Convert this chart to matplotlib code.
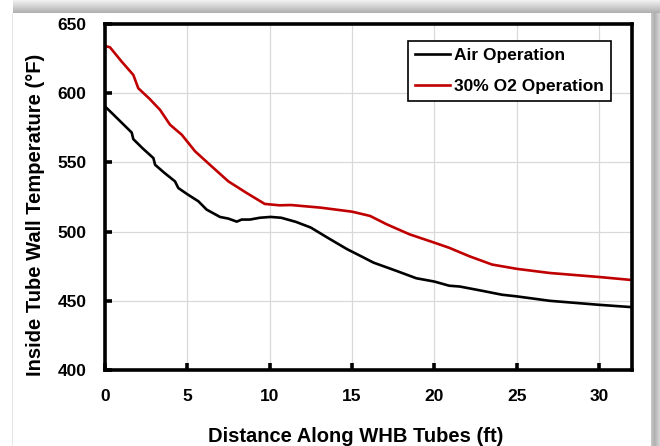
import matplotlib
matplotlib.use("Agg")
import matplotlib.pyplot as plt
from matplotlib.patches import Rectangle

plt.rcParams['font.family'] = ['Liberation Sans', 'DejaVu Sans']
plt.rcParams['font.weight'] = 'bold'

# Data
air_x = [0, 0.3, 0.9, 1.62, 1.72, 2.3, 2.94, 3.04, 3.6, 4.25, 4.45, 5.0, 5.67, 6.17,
         6.98, 7.49, 8.0, 8.3, 8.8, 9.4, 10.06, 10.7, 11.6, 12.5, 13.5, 14.7, 15.5,
         16.3, 17.7, 18.9, 20.0, 20.9, 21.55, 23.0, 24.1, 25.0, 27.0, 30.0, 32.0]
air_y = [590.4, 587.0, 580.0, 571.6, 566.8, 560.0, 553.1, 548.3, 542.5, 536.3, 531.5,
         527.0, 521.9, 515.9, 510.6, 509.4, 507.2, 508.7, 508.7, 510.0, 510.6, 510.0,
         507.0, 502.9, 495.7, 487.3, 482.5, 477.6, 471.6, 466.3, 463.9, 460.9, 460.3,
         457.0, 454.4, 453.2, 450.0, 447.1, 445.4]

o2_x = [0, 0.3, 1.0, 1.72, 2.02, 2.7, 3.34, 3.95, 4.66, 5.47, 6.48, 7.49, 8.6, 9.7,
        10.6, 11.3, 13.1, 15.0, 16.1, 17.1, 18.5, 20.0, 20.9, 22.1, 23.5, 25.0, 27.0,
        30.0, 32.0]
o2_y = [634.1, 633.2, 623.0, 613.2, 603.6, 596.0, 588.0, 577.2, 570.0, 558.0, 547.1,
        536.3, 527.9, 520.0, 519.0, 519.2, 517.3, 514.4, 511.3, 505.3, 498.0, 492.0,
        488.3, 482.3, 476.2, 473.1, 470.1, 467.2, 465.0]

series_names = ['Air Operation', '30% O2 Operation']
x_ticks = [0, 5, 10, 15, 20, 25, 30]
y_ticks = [400, 450, 500, 550, 600, 650]

W, H = 660, 446
fig = plt.figure(figsize=(W / 100, H / 100), dpi=100)
fig.patch.set_facecolor('white')

# card shadow (decoration)
def px_rect(x0, y0, x1, y1, color, alpha):
    fig.patches.append(Rectangle((x0 / W, 1 - y1 / H), (x1 - x0) / W, (y1 - y0) / H,
                                 transform=fig.transFigure, facecolor=color,
                                 edgecolor='none', alpha=alpha, zorder=0))
for i in range(13):
    a = 0.10 + 0.45 * (i / 12)
    px_rect(13, i, 660, i + 1, '#707070', a)
for i in range(9):
    a = 0.55 - 0.05 * abs(i - 3)
    px_rect(651 + i, 13, 652 + i, 446, '#707070', a)
px_rect(12, 13, 13, 446, '#e6e6e6', 1)

ax = fig.add_axes([105 / W, 1 - 370 / H, (632 - 105) / W, (370 - 24) / H])
ax.plot(air_x, air_y, color='black', lw=1.9, label=series_names[0])
ax.plot(o2_x, o2_y, color='#c00000', lw=1.9, label=series_names[1])

ax.set_xlim(0, 32)
ax.set_ylim(400, 650)
ax.set_xticks(x_ticks)
ax.set_yticks(y_ticks)
ax.grid(True, color='#d9d9d9', lw=0.9)
ax.set_axisbelow(True)
for s in ax.spines.values():
    s.set_linewidth(2.6)
    s.set_color('black')
ax.tick_params(direction='in', length=5, width=2.6, labelsize=12.5)
ax.tick_params(axis='x', pad=14)
ax.tick_params(axis='y', pad=13.5)
for lab in ax.get_xticklabels() + ax.get_yticklabels():
    lab.set_fontweight('bold')

ax.set_xlabel('Distance Along WHB Tubes (ft)', fontsize=14.5, fontweight='bold')
ax.set_ylabel('Inside Tube Wall Temperature (°F)', fontsize=14.5, fontweight='bold')
ax.xaxis.set_label_coords(0.475, -0.165)
ax.yaxis.set_label_coords(-0.114, 0.448)

leg = ax.legend(loc='upper right', bbox_to_anchor=((611 - 105) / 527, (370 - 41) / 346),
                borderaxespad=0, fancybox=False, edgecolor='black', framealpha=1,
                prop={'size': 12.5, 'weight': 'bold'}, handlelength=2.0,
                handletextpad=0.23, borderpad=0.41, labelspacing=0.88)
leg.get_frame().set_linewidth(1.2)

fig.savefig('out.png', dpi=100)
